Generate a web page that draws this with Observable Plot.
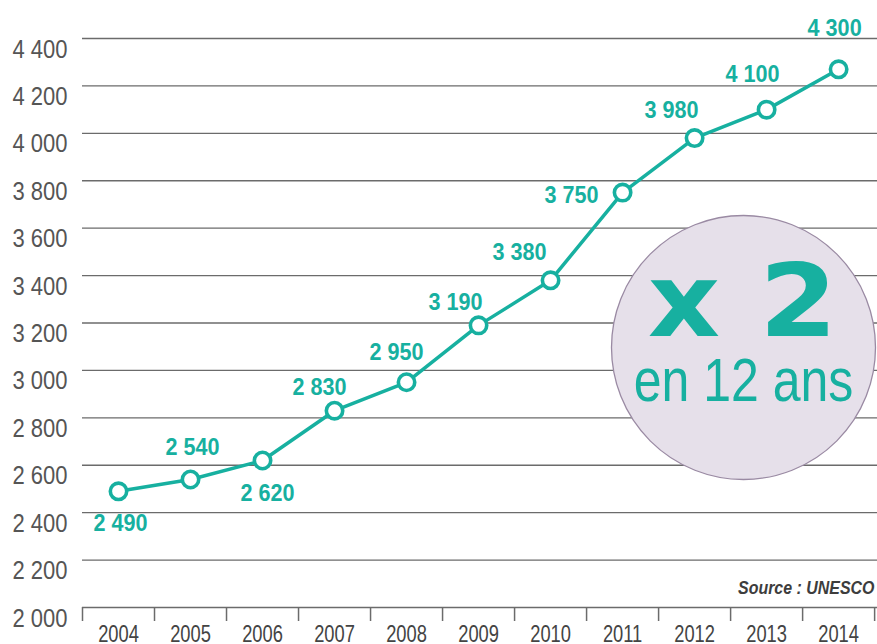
<!DOCTYPE html>
<html><head><meta charset="utf-8">
<script src="https://cdn.jsdelivr.net/npm/d3@7"></script>
<script src="https://cdn.jsdelivr.net/npm/@observablehq/plot@0.6"></script>
<style>
body{margin:0;background:#fff;}
#chart svg{display:block;}
</style></head><body><div id="chart"></div>
<script>
// ---- data ----
const years = [2004, 2005, 2006, 2007, 2008, 2009, 2010, 2011, 2012, 2013, 2014];
const values = [2490, 2540, 2620, 2830, 2950, 3190, 3380, 3750, 3980, 4100, 4270];
const valueLabels = ["2 490", "2 540", "2 620", "2 830", "2 950", "3 190", "3 380", "3 750", "3 980", "4 100", "4 300"];
const yTicks = [2000, 2200, 2400, 2600, 2800, 3000, 3200, 3400, 3600, 3800, 4000, 4200, 4400];
const sourceText = "Source : UNESCO";
const badgeBig = "x 2";
const badgeSmall = "en 12 ans";

// ---- layout (label offsets in px, not data) ----
const labelDx = [2, 2, 5, -15, -10, -23, -31, -51, -23, -14, -4];
const labelDy = [32, -32, 33, -23, -30, -23, -28, 3, -28, -35, -41];

const teal = "#17b0a0";
const grid = "#6b6b6b";
const sans = "'Liberation Sans',Arial,Helvetica,sans-serif";
const fmt = d => d3.format(",")(d).replace(/,/g, " ");

const data = years.map((year, i) => ({year, value: values[i], label: valueLabels[i]}));
const boundaries = years.map(y => y - 0.5).concat([years[years.length - 1] + 0.5]);

const labelMarks = data.map((d, i) => Plot.text([d], {
  x: "year", y: "value", text: "label",
  dx: labelDx[i], dy: labelDy[i],
  fill: teal, fontSize: 24, fontWeight: "bold", lineAnchor: "middle", textAnchor: "middle"
}));

const chart = Plot.plot({
  width: 877, height: 644,
  marginLeft: 82, marginRight: 0, marginTop: 38, marginBottom: 37,
  style: {fontFamily: sans, background: "white", overflow: "visible"},
  x: {type: "linear", domain: [2003.5, 2014.54]},
  y: {domain: [2000, 4400]},
  marks: [
    Plot.ruleY(yTicks, {stroke: grid, strokeWidth: 1.4}),
    Plot.dot([0], {frameAnchor: "right", dx: -134, dy: 24.5, r: 132, fill: "#e6e0ea", stroke: "#9a8aa3", strokeWidth: 1.3}),
    Plot.text([badgeBig], {frameAnchor: "right", dx: -135, dy: 12.5, lineAnchor: "bottom", textAnchor: "middle",
      fontFamily: "'DejaVu Sans',sans-serif", fontWeight: "bold", fontSize: 102, fill: teal}),
    Plot.text([badgeSmall], {frameAnchor: "right", dx: -134, dy: 78, lineAnchor: "bottom", textAnchor: "middle",
      fontSize: 61, fill: teal}),
    Plot.axisY(yTicks, {tickSize: 0, tickPadding: 15, tickFormat: fmt, fontSize: 25, fill: "#555", dy: 11, label: null}),
    Plot.axisX(boundaries, {tickSize: 14, tickFormat: () => "", stroke: grid, strokeWidth: 1.5, label: null}),
    Plot.axisX(years, {tickSize: 0, tickPadding: 18, tickFormat: d => String(d), fontSize: 23.5, fill: "#444", label: null}),
    Plot.text([sourceText], {frameAnchor: "bottom-right", dx: -3, dy: -14, lineAnchor: "bottom", textAnchor: "end",
      fontStyle: "italic", fontWeight: "bold", fontSize: 19, fill: "#3d3d3d"}),
    Plot.line(data, {x: "year", y: "value", stroke: teal, strokeWidth: 3.5}),
    Plot.dot(data, {x: "year", y: "value", r: 8.2, fill: "white", stroke: teal, strokeWidth: 3.6}),
    ...labelMarks
  ]
});

// condensed look: squeeze glyphs horizontally around each text's anchor
const squeeze = {25: 0.88, 24: 0.9, 23.5: 0.78, 19: 0.84, 61: 0.82, 102: 1.1};
chart.querySelectorAll("text").forEach(t => {
  const g = t.closest("[font-size]");
  if (!g) return;
  const sx = squeeze[parseFloat(g.getAttribute("font-size"))];
  if (!sx) return;
  t.setAttribute("transform", (t.getAttribute("transform") || "") + ` scale(${sx},1)`);
});
document.getElementById("chart").append(chart);
</script>
</body></html>
